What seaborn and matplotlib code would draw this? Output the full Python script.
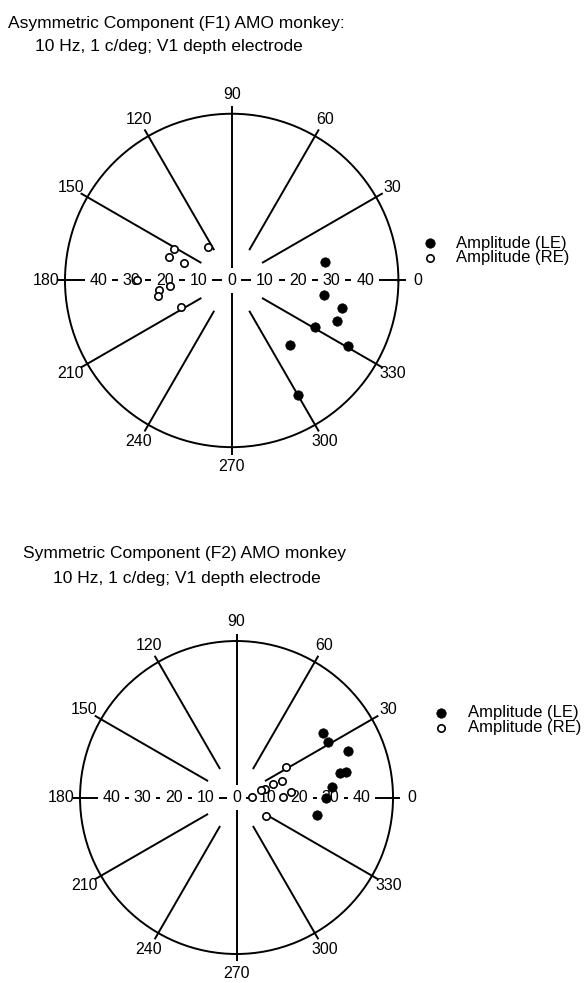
import numpy as np
import pandas as pd
import matplotlib
matplotlib.use("Agg")
import matplotlib.pyplot as plt
import seaborn as sns

# ---------------- data ----------------
# Asymmetric component (F1): phase angle (deg) and amplitude
f1_le_angle = [11, 351, 346, 339, 330.5, 330.5, 312, 300]
f1_le_amp = [28.4, 28.0, 34.0, 33.8, 28.6, 40.0, 26.2, 39.5]
f1_re_angle = [124.6, 151.8, 159.5, 159.3, 180, 185, 187.4, 191.9, 207.5]
f1_re_amp = [12.3, 19.8, 20.0, 15.2, 28.4, 18.5, 21.9, 22.6, 17.2]

# Symmetric component (F2)
f2_le_angle = [36.5, 31.3, 22.7, 13.2, 13.0, 6.1, 359.5, 347.7]
f2_le_amp = [34.5, 34.3, 38.5, 34.0, 35.8, 30.6, 28.6, 26.2]
f2_re_angle = [32, 20, 19.7, 16, 17, 6.1, 0.2, 0.5, 327.6]
f2_re_amp = [18.5, 15.4, 12.5, 9.5, 8.2, 17.4, 15.0, 5.0, 11.0]

angle_ticks = [0, 30, 60, 90, 120, 150, 180, 210, 240, 270, 300, 330]
amp_ticks = [10, 20, 30, 40]
legend_labels = ["Amplitude (LE)", "Amplitude (RE)"]
title_f1 = ["Asymmetric Component (F1) AMO monkey:",
            "10 Hz, 1 c/deg; V1 depth electrode"]
title_f2 = ["Symmetric Component (F2) AMO monkey",
            "10 Hz, 1 c/deg; V1 depth electrode"]

RMAX = 50
SPOKE_IN = 10.5
SPOKE_OUT = 52.3
LW = 1.4

sns.set_theme(style="white")
plt.rcParams["font.family"] = ["Liberation Sans", "DejaVu Sans"]
plt.rcParams["text.color"] = "black"

fig = plt.figure(figsize=(5.84, 9.83), dpi=100)
fig.patch.set_facecolor("white")


def draw_panel(rect, le_a, le_r, re_a, re_r, leg_xy):
    ax = fig.add_axes(rect, projection="polar")
    ax.set_facecolor("white")
    ax.grid(False)
    ax.set_ylim(0, RMAX)
    ax.set_yticks([])
    ax.set_xticks(np.deg2rad(angle_ticks))
    ax.set_xticklabels([str(a) for a in angle_ticks], fontsize=11.5, color="black")
    ax.tick_params(axis="x", length=0, pad=6.8)
    ax.spines["polar"].set_linewidth(LW)
    ax.spines["polar"].set_color("black")

    # radial spokes
    for a in angle_ticks:
        th = np.deg2rad(a)
        r0 = 0 if a % 90 == 0 else SPOKE_IN
        ax.plot([th, th], [r0, SPOKE_OUT], color="black", lw=LW,
                clip_on=False, zorder=1, solid_capstyle="butt")

    # amplitude scale along the horizontal axis
    box = dict(facecolor="white", edgecolor="none", pad=3.4)
    for r in amp_ticks:
        for th in (0.0, np.pi):
            ax.text(th, r, str(r), ha="center", va="center", fontsize=11.5,
                    bbox=box, zorder=2)
    ax.text(0, 0, "0", ha="center", va="center", fontsize=11.5, bbox=box, zorder=2)

    le = pd.DataFrame({"theta": np.deg2rad(le_a), "amp": le_r})
    re = pd.DataFrame({"theta": np.deg2rad(re_a), "amp": re_r})
    sns.scatterplot(data=le, x="theta", y="amp", ax=ax, color="black",
                    edgecolor="black", s=46, linewidth=0.5, zorder=5,
                    clip_on=False, label=legend_labels[0], legend=False)
    sns.scatterplot(data=re, x="theta", y="amp", ax=ax, color="white",
                    edgecolor="black", s=28, linewidth=1.2, zorder=6,
                    clip_on=False, label=legend_labels[1], legend=False)
    ax.set_xlabel("")
    ax.set_ylabel("")

    handles, labels = ax.get_legend_handles_labels()
    ax.legend(handles, labels, loc="center left", bbox_to_anchor=leg_xy,
              bbox_transform=fig.transFigure, frameon=False, borderpad=0,
              borderaxespad=0, handlelength=0.8, handletextpad=1.2,
              labelspacing=-0.03, fontsize=12)
    return ax


draw_panel([0.1113, 0.5451, 0.5709, 0.3392],
           f1_le_angle, f1_le_amp, f1_re_angle, f1_re_amp, (0.7241, 0.7452))
draw_panel([0.1370, 0.0295, 0.5360, 0.3184],
           f2_le_angle, f2_le_amp, f2_re_angle, f2_re_amp, (0.7442, 0.2673))

fig.text(0.0137, 0.9766, title_f1[0], fontsize=12.5, va="center", ha="left")
fig.text(0.0599, 0.9522, title_f1[1], fontsize=12.5, va="center", ha="left")
fig.text(0.0394, 0.4374, title_f2[0], fontsize=12.5, va="center", ha="left")
fig.text(0.0908, 0.4120, title_f2[1], fontsize=12.5, va="center", ha="left")

fig.savefig("out.png", dpi=100, facecolor="white")
